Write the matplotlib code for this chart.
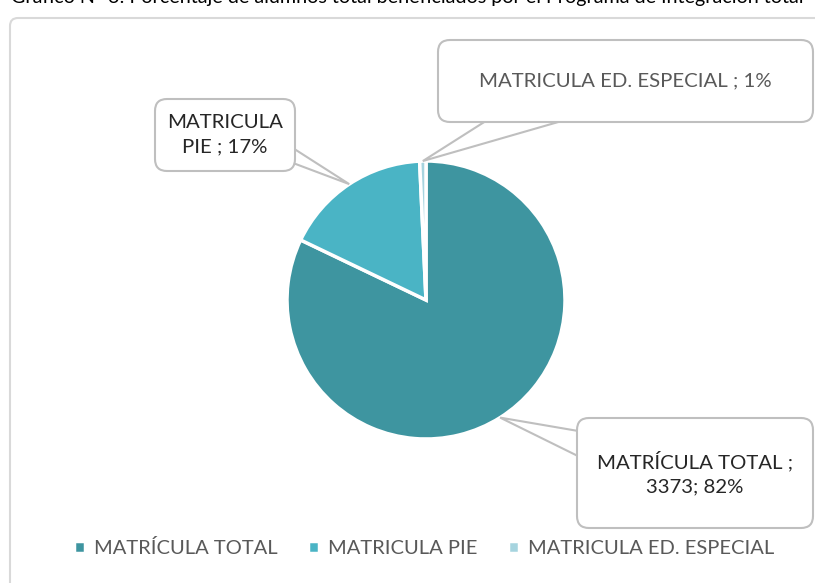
import numpy as np
import matplotlib.pyplot as plt
from matplotlib.patches import FancyBboxPatch, Polygon

plt.rcParams['font.family'] = ['Lato', 'DejaVu Sans']

# matricula por grupo
categorias = ['MATRÍCULA TOTAL', 'MATRICULA PIE', 'MATRICULA ED. ESPECIAL']
valores = [3373, 705, 30]
colores = ['#3e95a0', '#4ab4c5', '#a6d4df']

total = sum(valores)
pct = [round(100 * v / total) for v in valores]
etiquetas = [
    'MATRÍCULA TOTAL ;\n%d; %d%%' % (valores[0], pct[0]),
    'MATRICULA\nPIE ; %d%%' % pct[1],
    'MATRICULA ED. ESPECIAL ; %d%%' % pct[2],
]

W, H = 815, 583
fig = plt.figure(figsize=(W / 100, H / 100), dpi=100)
ax = fig.add_axes([0, 0, 1, 1])


def py(y):
    # coordenada vertical medida desde arriba
    return H - y


# marco del grafico
marco = FancyBboxPatch((10, -20), 830, py(18) + 20, boxstyle='round,pad=0,rounding_size=8',
                       fc='white', ec='#d9d9d9', lw=1.5, zorder=0)
ax.add_patch(marco)

cx, cy, r = 426, py(300), 139
wedges, _ = ax.pie(valores, colors=colores, startangle=90, counterclock=False,
                   center=(cx, cy), radius=r, frame=True,
                   wedgeprops=dict(edgecolor='white', linewidth=2.5))
ax.set_xlim(0, W)
ax.set_ylim(0, H)
ax.set_aspect('equal')
ax.axis('off')

# globos: (x0, y0, x1, y1) de la caja, base del puntero, color del texto
globos = [
    ((577, 418, 813, 528), [(590, 433), (590, 462)], '#262626'),
    ((155, 99, 295, 171), [(285, 143), (285, 160)], '#262626'),
    ((438, 40, 813, 122), [(500, 112), (593, 112)], '#595959'),
]

for w, et, (caja, base, c) in zip(wedges, etiquetas, globos):
    ang = np.deg2rad((w.theta1 + w.theta2) / 2)
    tip = (cx + r * np.cos(ang), cy + r * np.sin(ang))
    x0, y0, x1, y1 = caja
    pts = [(base[0][0], py(base[0][1])), tip, (base[1][0], py(base[1][1]))]
    ax.add_patch(Polygon(pts, closed=True, fc='white', ec='#bfbfbf', lw=1.5, zorder=4))
    ax.add_patch(FancyBboxPatch((x0, py(y1)), x1 - x0, y1 - y0,
                                boxstyle='round,pad=0,rounding_size=12',
                                fc='white', ec='#bfbfbf', lw=1.5, zorder=5))
    ax.text((x0 + x1) / 2, py((y0 + y1) / 2), et, ha='center', va='center',
            fontsize=14.7, color=c, linespacing=1.5, zorder=6)

# leyenda
ax.legend(wedges, categorias, loc='center', bbox_to_anchor=(424 / W, 1 - 548 / H),
          ncol=3, frameon=False, fontsize=14.5, handlelength=0.55, handleheight=0.55,
          handletextpad=0.45, columnspacing=1.5, labelcolor='#595959')

fig.text(0.5, 1 - 3 / H, 'Gráfico N° 3: Porcentaje de alumnos total beneficiados por el Programa de Integración total',
         ha='center', va='baseline', fontsize=14.2, color='black')

fig.savefig('out.png', dpi=100)
